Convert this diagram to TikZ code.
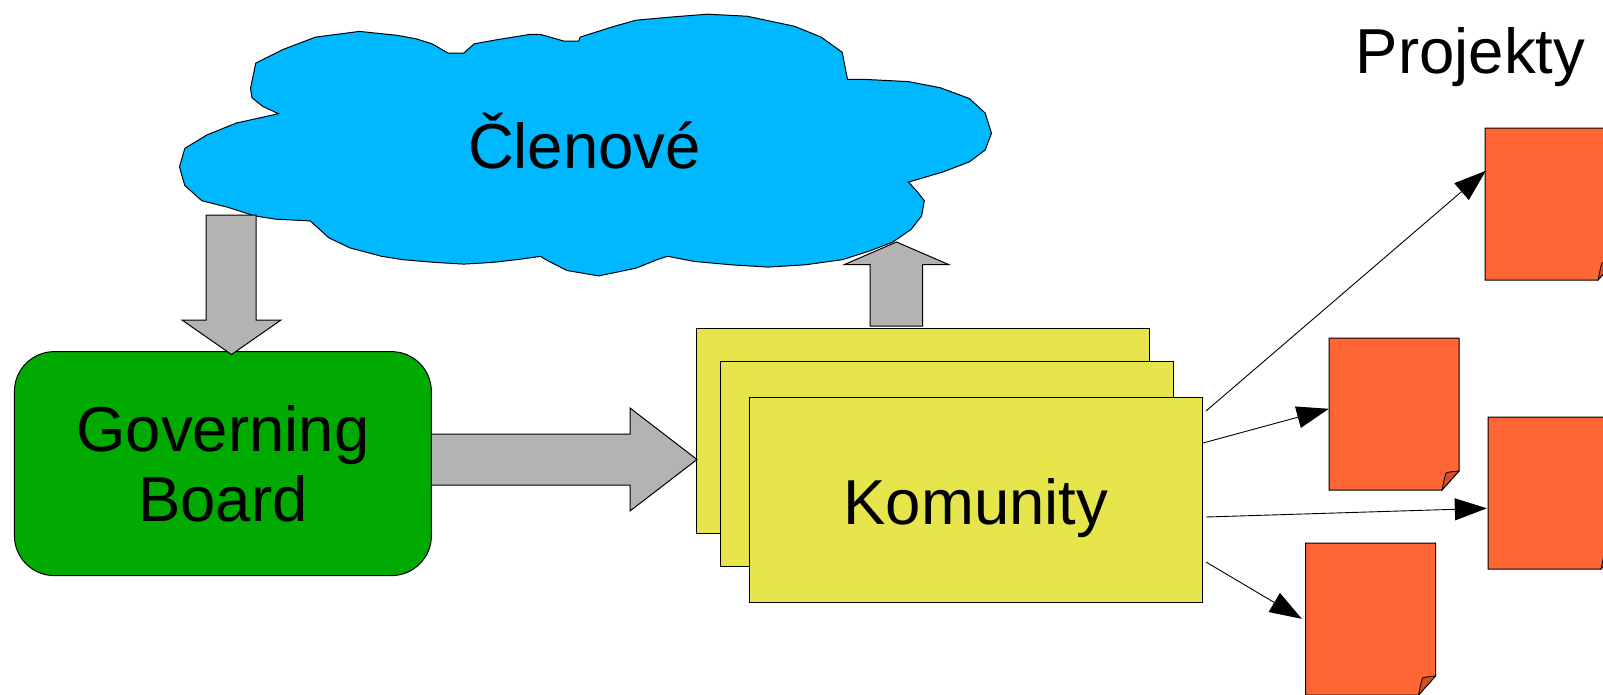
\documentclass[tikz,border=0pt]{standalone}
\usepackage{fontspec}
\setmainfont{Liberation Sans}
\usetikzlibrary{arrows.meta,calc}
\definecolor{cloudblue}{RGB}{0,184,255}
\definecolor{boardgreen}{RGB}{0,170,0}
\definecolor{komyellow}{RGB}{230,230,76}
\definecolor{docorange}{RGB}{255,102,51}
\definecolor{folddark}{RGB}{205,80,40}
\definecolor{arrowgray}{RGB}{179,179,179}
\newcommand\projdoc[3]{%
  \begin{scope}[shift={(#2,#3)}]
    \filldraw[docfill] (0,0) -- (130,0) -- (130,133) -- (113,152) -- (0,152) -- cycle;
    \filldraw[foldfill] (113,152) .. controls (114.5,145) and (115.5,139) .. (117,135)
       .. controls (121,133.5) and (126,133.5) .. (130,133) -- cycle;
    \node[minimum width=130pt,minimum height=152pt,inner sep=0pt] (#1) at (65,76) {};
  \end{scope}}
\begin{document}
\begin{tikzpicture}[x=1pt,y=-1pt,
  outl/.style={draw=black,line width=1pt,line join=miter},
  bigtext/.style={font=\fontsize{63.5}{70}\selectfont,inner sep=0pt},
  cloudfill/.style={outl,fill=cloudblue},
  board/.style={outl,fill=boardgreen,rounded corners=40pt,minimum width=417pt,minimum height=224pt,inner sep=0pt},
  komrect/.style={outl,fill=komyellow,minimum width=453pt,minimum height=205pt,inner sep=0pt},
  docfill/.style={outl,fill=docorange},
  foldfill/.style={outl,fill=folddark,line width=0.8pt},
  blockarrow/.style={outl,fill=arrowgray},
  thinarrow/.style={draw=black,line width=0.9pt,-{Triangle[length=32pt,width=22pt]}}
]
\useasboundingbox (0,0) rectangle (1603,694);

% cloud
\filldraw[cloudfill] (255.8,63.1) -- (282.7,49.6) -- (315.6,37.1) -- (359.5,31.4) -- (397.6,35.4)
 -- (416.1,38.8) -- (432,43.8) -- (447.9,53) -- (463.8,53) -- (474.3,43.8) -- (498.2,39.5)
 -- (529.9,34.4) -- (540.5,34.4) -- (564.3,41.2) -- (578.6,41.2) -- (580.2,37.1) -- (612,27)
 -- (635.8,20.2) -- (672.8,16.9) -- (707.3,14.2) -- (747,16.2) -- (794.6,26.3) -- (821.1,37.1)
 -- (842.2,52.3) -- (847.5,79.3) -- (863.4,79.3) -- (908.4,81.6) -- (940.1,87.7) -- (969.3,98.5)
 -- (985.1,113) -- (991.5,133.2) -- (985.1,150.1) -- (969.3,161.9) -- (942.8,172) -- (908.4,182.1)
 -- (916.3,190.6) -- (924.3,200.7) -- (921.6,215.9) -- (911.1,229.4) -- (892.5,242.2) -- (868.7,251.3)
 -- (842.2,259.7) -- (805.2,264.8) -- (768.1,267.1) -- (731.1,264.8) -- (694,261.4) -- (667.5,256.3)
 -- (657,259.7) -- (635.8,268.2) -- (598.7,275.9) -- (567,270.5) -- (545.8,259.7) -- (540.5,256.3)
 -- (522,259) -- (492.9,262.4) -- (463.8,264.1) -- (434.7,262.4) -- (402.9,259.7) -- (381.7,256.3)
 -- (350,247.9) -- (328.8,237.8) -- (310.3,220.9) -- (275.9,219.2) -- (254.7,215.9) -- (228.2,207.4)
 -- (201.8,200.7) -- (184.8,185.5) -- (179.5,167) -- (184.8,148.4) -- (207,134.9) -- (236.2,123.1)
 -- (278.5,113.7) -- (262.6,106.3) -- (252,97.8) -- (250.5,88.4) -- cycle;
\node[bigtext,anchor=base] (members) at (584.5,168.7) {Členové};

% governing board
\node[board] (gb) at (222.9,463.6) {};
\node[bigtext,align=center] (gbtext) at (222.9,464) {Governing\\Board};

% communities
\node[komrect] (komA) at (922.7,430.8) {};
\node[komrect] (komB) at (947.2,463.7) {};
\node[komrect] (komC) at (975.8,499.5) {};
\node[bigtext,anchor=base] (komtext) at (975.8,524.5) {Komunity};

% block arrows
\filldraw[blockarrow] (206,215) -- (256,215) -- (256,320) -- (281,320) -- (231.5,354.5)
  -- (182,320) -- (206,320) -- cycle;
\filldraw[blockarrow] (431.4,434) -- (630,434) -- (630,408) -- (697,459.5) -- (630,511)
  -- (630,485) -- (431.4,485) -- cycle;
\filldraw[blockarrow] (870,326) -- (870,264.5) -- (844.5,264.5) -- (896.5,242) -- (948.5,264.5)
  -- (922.5,264.5) -- (922.5,326) -- cycle;

% projects
\node[bigtext,anchor=base] (projtitle) at (1470.6,73.6) {Projekty};
\projdoc{docA}{1485}{128}
\projdoc{docB}{1329}{338}
\projdoc{docC}{1488}{417}
\projdoc{docD}{1305.5}{543}

\coordinate (s1) at (1206,411);
\coordinate (s2) at (1203,443);
\coordinate (s3) at (1206,517);
\coordinate (s4) at (1206,562);
\coordinate (t1) at ($(docA.north west)+(1,43)$);
\coordinate (t2) at ($(docB.north west)+(0,71)$);
\coordinate (t3) at ($(docC.north west)+(-1,91.5)$);
\coordinate (t4) at ($(docD.north west)+(-3.5,76)$);
\draw[thinarrow] (s1) -- (t1);
\draw[thinarrow] (s2) -- (t2);
\draw[thinarrow] (s3) -- (t3);
\draw[thinarrow] (s4) -- (t4);
\end{tikzpicture}
\end{document}
